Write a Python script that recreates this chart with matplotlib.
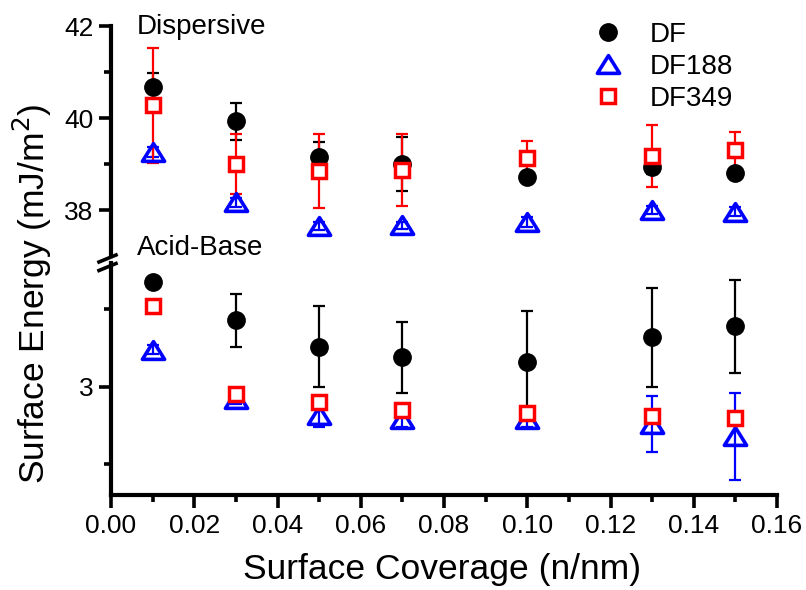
import matplotlib
matplotlib.use("Agg")
import matplotlib.pyplot as plt
from matplotlib.lines import Line2D
from matplotlib.path import Path
import numpy as np

plt.rcParams['font.family'] = ['Liberation Sans', 'DejaVu Sans']

# ---- data ----
coverage = [0.01, 0.03, 0.05, 0.07, 0.10, 0.13, 0.15]

# Dispersive component (mJ/m^2)
disp_df = [40.67, 39.93, 39.15, 39.00, 38.72, 38.93, 38.80]
disp_df_err = [0.30, 0.40, 0.32, 0.58, 0.10, 0.15, 0.10]
disp_df188 = [39.26, 38.17, 37.65, 37.67, 37.74, 38.00, 37.96]
disp_df188_err = [0.10, 0.10, 0.08, 0.08, 0.10, 0.08, 0.10]
disp_df349 = [40.28, 39.00, 38.85, 38.87, 39.13, 39.17, 39.30]
disp_df349_err = [1.25, 0.65, 0.80, 0.78, 0.38, 0.67, 0.40]

# Acid-base component (mJ/m^2)
ab_df = [3.68, 3.43, 3.26, 3.19, 3.16, 3.32, 3.39]
ab_df_err = [0.02, 0.17, 0.26, 0.23, 0.33, 0.32, 0.30]
ab_df188 = [3.24, 2.92, 2.82, 2.79, 2.79, 2.76, 2.68]
ab_df188_err = [0.03, 0.03, 0.08, 0.05, 0.05, 0.18, 0.28]
ab_df349 = [3.52, 2.95, 2.90, 2.85, 2.83, 2.81, 2.80]
ab_df349_err = [0.02, 0.03, 0.03, 0.03, 0.03, 0.03, 0.03]

series_names = ["DF", "DF188", "DF349"]
xticks = [0.00, 0.02, 0.04, 0.06, 0.08, 0.10, 0.12, 0.14, 0.16]
xticklabels = ["0.00", "0.02", "0.04", "0.06", "0.08", "0.10", "0.12", "0.14", "0.16"]

# ---- figure ----
W, H = 806, 590
fig = plt.figure(figsize=(W / 100, H / 100), dpi=100)

def fx(px):
    return px / W

def fy(py):
    return 1 - py / H

left, right = 111, 777
ax_top = fig.add_axes([fx(left), fy(256), fx(right - left), fy(26) - fy(256)])
ax_bot = fig.add_axes([fx(left), fy(495), fx(right - left), fy(263) - fy(495)])

tri = Path([(0, 1), (-1.25, -1), (1.25, -1), (0, 1)],
           [Path.MOVETO, Path.LINETO, Path.LINETO, Path.CLOSEPOLY])

styles = [
    dict(color='black', marker='o', ms=12.5, mfc='black', mec='black', mew=1),
    dict(color='#0000FF', marker=tri, ms=16, mfc='none', mec='#0000FF', mew=2.6),
    dict(color='#FF0000', marker='s', ms=9.5, mfc='white', mec='#FF0000', mew=2.5),
]

top_data = [(disp_df, disp_df_err), (disp_df188, disp_df188_err), (disp_df349, disp_df349_err)]
bot_data = [(ab_df, ab_df_err), (ab_df188, ab_df188_err), (ab_df349, ab_df349_err)]

handles = []
for ax, data in ((ax_top, top_data), (ax_bot, bot_data)):
    for (vals, errs), st, name in zip(data, styles, series_names):
        ax.errorbar(coverage, vals, yerr=errs, fmt='none', ecolor=st['color'],
                    elinewidth=1.6, capsize=4.5, capthick=1.6, zorder=2)
        ln, = ax.plot(coverage, vals, linestyle='none', marker=st['marker'], ms=st['ms'],
                      mfc=st['mfc'], mec=st['mec'], mew=st['mew'], zorder=3, label=name)
        if ax is ax_top:
            handles.append(ln)

for ax in (ax_top, ax_bot):
    ax.set_xlim(0, 0.16)
    for s in ('top', 'right'):
        ax.spines[s].set_visible(False)
    ax.spines['left'].set_linewidth(3)
    ax.spines['bottom'].set_linewidth(3)
    ax.tick_params(axis='both', which='major', direction='out', length=9, width=2.6,
                   labelsize=19)
    ax.tick_params(axis='both', which='minor', direction='out', length=5, width=2.6)

ax_top.set_ylim(37, 42)
ax_top.set_yticks([38, 40, 42])
ax_top.set_yticks([39, 41], minor=True)
ax_top.spines['bottom'].set_visible(False)
ax_top.tick_params(axis='x', which='both', bottom=False, labelbottom=False)

ax_bot.set_ylim(2.3, 3.8)
ax_bot.set_yticks([3])
ax_bot.set_yticklabels(["3"])
ax_bot.set_yticks([2.5, 3.5], minor=True)
ax_bot.set_xticks(xticks)
ax_bot.set_xticklabels(xticklabels)
ax_bot.set_xticks([0.01, 0.03, 0.05, 0.07, 0.09, 0.11, 0.13, 0.15], minor=True)
ax_bot.tick_params(axis='x', which='major', pad=5)

ax_top.text(fx(137), fy(27), "Dispersive", transform=fig.transFigure, fontsize=20,
            ha='left', va='center')
ax_top.text(fx(137), fy(248), "Acid-Base", transform=fig.transFigure, fontsize=20,
            ha='left', va='center')

fig.text(fx(243), fy(570), "Surface Coverage (n/nm)", fontsize=25.5, ha='left', va='center')
fig.text(fx(32), fy(294), "Surface Energy (mJ/m$^2$)", fontsize=25.5, rotation=90,
         ha='center', va='center')

# axis break marks
for yc in (258.5, 267):
    fig.add_artist(Line2D([fx(99), fx(116)], [fy(yc + 3.5), fy(yc - 3.5)],
                          color='black', lw=2.6, transform=fig.transFigure))

leg = fig.legend(handles=handles, loc='upper left',
                 bbox_to_anchor=(fx(587), fy(22)), frameon=False, fontsize=20,
                 handlelength=1.5, handletextpad=0.75, labelspacing=0.21,
                 borderpad=0, borderaxespad=0, numpoints=1)

fig.savefig("out.png", dpi=100)
